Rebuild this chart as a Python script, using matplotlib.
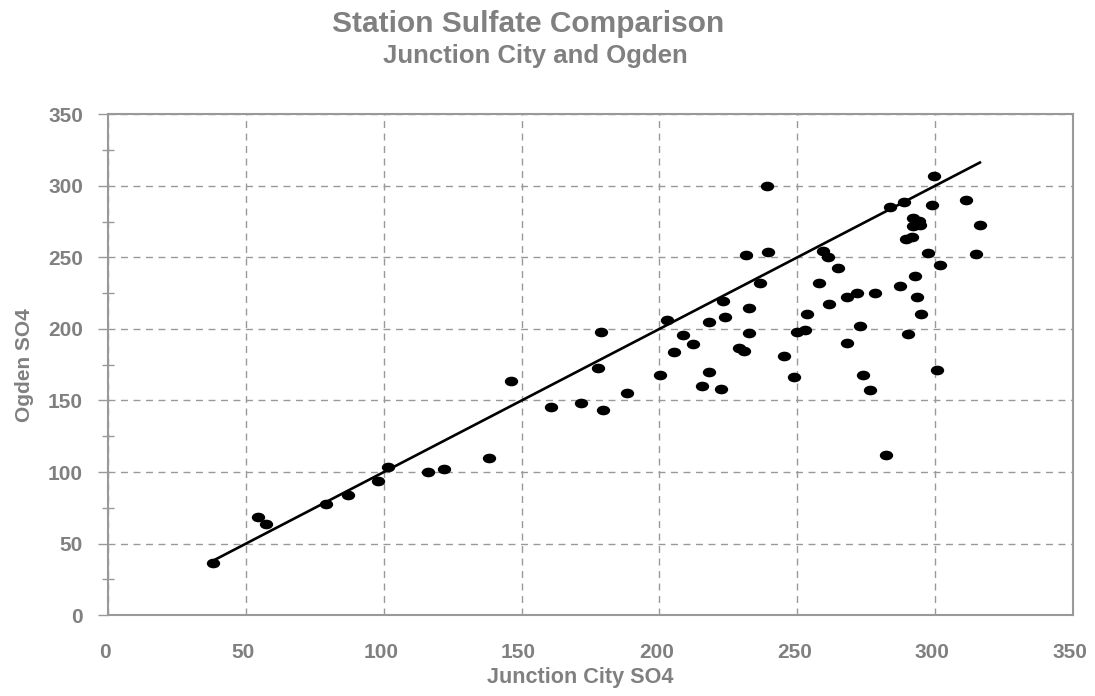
import matplotlib
matplotlib.use("Agg")
import matplotlib.pyplot as plt
from matplotlib.path import Path
from matplotlib.transforms import Affine2D, ScaledTranslation
from matplotlib.ticker import MultipleLocator

# sulfate values
junction_city = [38.1, 54.4, 57.2, 79.1, 86.9, 97.8, 101.7, 116.0, 121.8, 138.2,
                 146.2, 160.6, 171.5, 178.7, 177.6, 179.5, 188.2, 200.2, 202.7, 205.1,
                 208.5, 212.0, 215.3, 217.8, 217.8, 222.3, 223.8, 223.1, 228.7, 230.7,
                 231.5, 232.4, 232.4, 236.5, 239.0, 239.3, 245.3, 248.9, 249.9, 252.9,
                 253.4, 257.8, 259.3, 261.2, 261.3, 264.6, 268.0, 268.1, 271.8, 272.7,
                 273.8, 276.4, 278.1, 282.2, 283.5, 287.4, 288.7, 289.5, 290.2, 291.7,
                 292.0, 292.0, 294.0, 294.4, 292.6, 293.5, 294.8, 297.4, 298.8, 299.7,
                 300.6, 301.8, 311.3, 314.7, 316.2]
ogden = [36.5, 68.8, 63.4, 77.8, 83.7, 94.1, 103.5, 99.9, 102.3, 109.8,
         163.8, 145.4, 148.0, 197.6, 172.6, 143.7, 154.9, 168.0, 206.4, 183.6,
         195.7, 189.4, 160.3, 170.1, 204.5, 157.7, 208.3, 219.4, 186.6, 184.3,
         251.6, 214.5, 197.3, 231.8, 299.9, 253.7, 181.3, 166.6, 197.6, 198.9,
         210.1, 232.0, 254.4, 250.5, 217.6, 242.5, 190.1, 222.0, 225.3, 202.0,
         167.5, 157.2, 225.3, 112.2, 284.8, 229.9, 288.7, 262.6, 196.6, 264.2,
         271.9, 277.3, 275.4, 272.4, 236.7, 222.0, 210.1, 253.0, 286.4, 306.9,
         171.0, 244.6, 290.3, 252.3, 272.4]

# 1:1 reference line over the data range
line_x = [min(junction_city), max(junction_city)]
line_y = line_x

gray = "#808080"
plt.rcParams['font.family'] = ['Liberation Sans', 'DejaVu Sans']
plt.rcParams['font.weight'] = 'bold'

fig = plt.figure(figsize=(10.95, 6.96), dpi=100)
ax = fig.add_axes([0.0986, 0.116, 0.8814, 0.72])

# wide flat dots like the original
ellipse = Path.unit_circle().transformed(Affine2D().scale(1.45, 1.0))
ax.plot(junction_city, ogden, linestyle='none', marker=ellipse, markersize=8.6,
        color='black', zorder=3)
ax.plot(line_x, line_y, color='black', linewidth=1.9, zorder=4)

ax.set_xlim(0, 350)
ax.set_ylim(0, 350)
ax.xaxis.set_major_locator(MultipleLocator(50))
ax.yaxis.set_major_locator(MultipleLocator(50))
ax.yaxis.set_minor_locator(MultipleLocator(25))

ax.grid(True, which='major', color='#999999', linestyle=(0, (5, 4)), linewidth=1.0)
ax.set_axisbelow(True)

for s in ax.spines.values():
    s.set_color('#999999')
    s.set_linewidth(1.5)

ax.tick_params(axis='x', length=0, pad=20, labelsize=15, labelcolor=gray)
ax.tick_params(axis='y', which='major', direction='out', length=7, width=1,
               color='#999999', pad=11, labelsize=15, labelcolor=gray)
ax.tick_params(axis='y', which='minor', direction='inout', length=9, width=1,
               color='#999999')

# x labels sit a few px left of their gridlines in the original
shift = ScaledTranslation(-3 / 100, 0, fig.dpi_scale_trans)
for lab in ax.get_xticklabels():
    lab.set_transform(lab.get_transform() + shift)

ax.set_xlabel("Junction City SO4", fontsize=15.6, fontweight='bold', color=gray)
ax.xaxis.set_label_coords(0.489, -0.103)
ax.set_ylabel("Ogden SO4", fontsize=15, fontweight='bold', color=gray, labelpad=10)

fig.text(528.5 / 1095, 1 - 32 / 696, "Station Sulfate Comparison", ha='center',
         va='baseline', fontsize=21.5, fontweight='bold', color=gray)
fig.text(535 / 1095, 1 - 63 / 696, "Junction City and Ogden", ha='center',
         va='baseline', fontsize=18.5, fontweight='bold', color=gray)

fig.savefig("out.png", dpi=100)
